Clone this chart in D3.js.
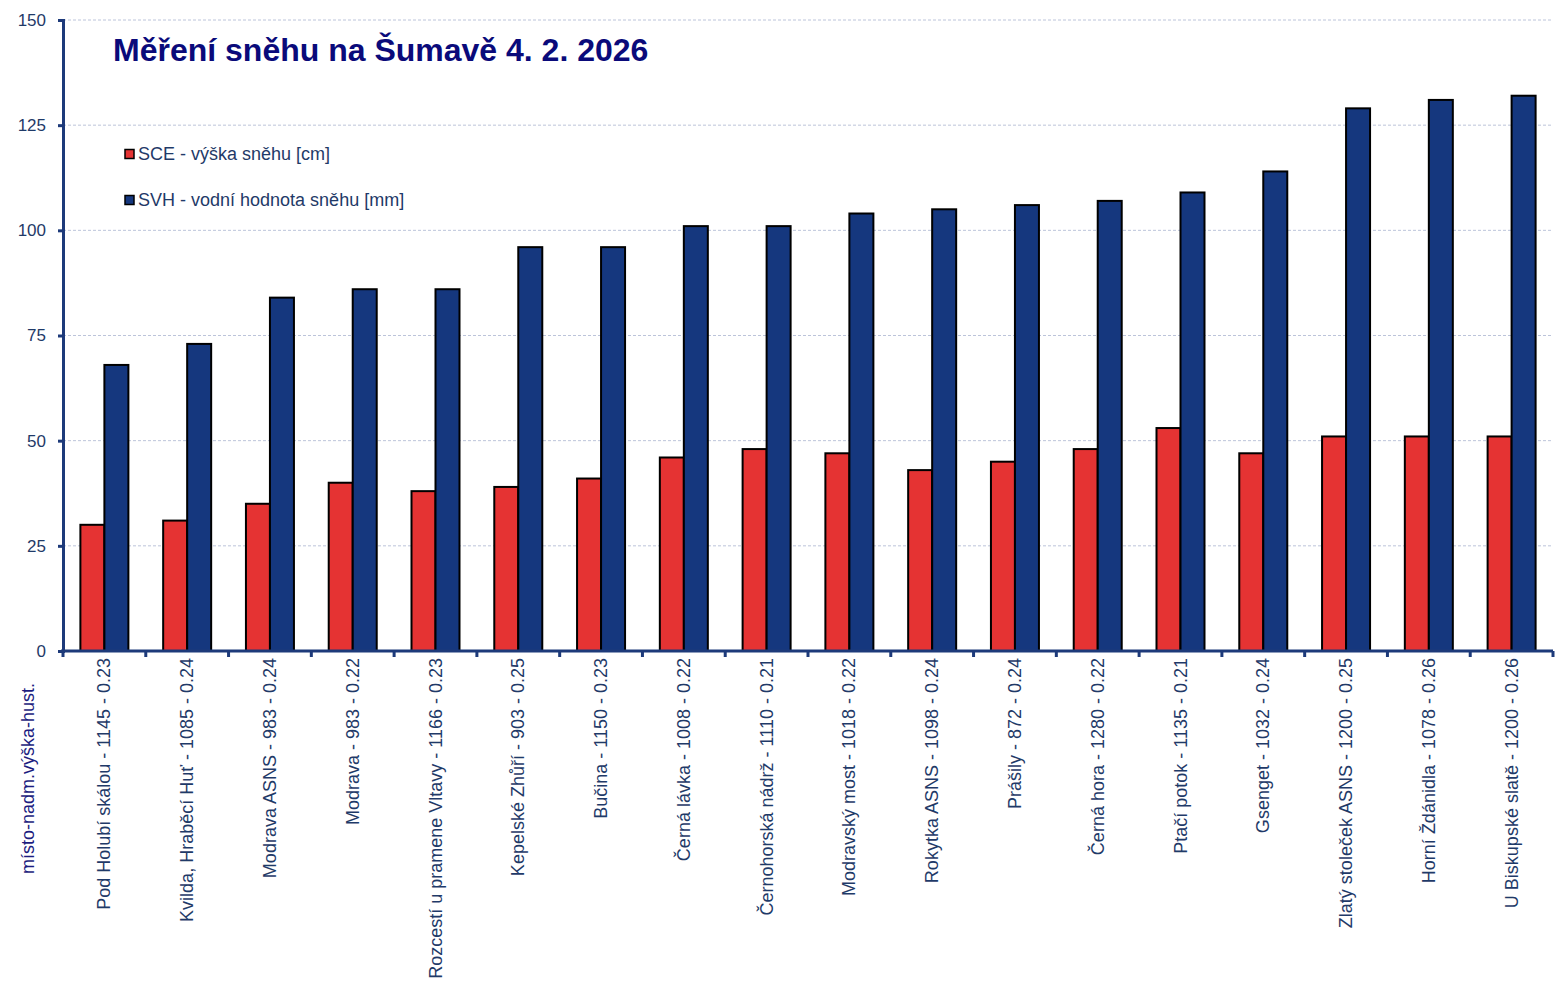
<!DOCTYPE html>
<html><head><meta charset="utf-8">
<script src="https://cdn.jsdelivr.net/npm/d3@7"></script>
<style>body{margin:0;background:#fff}svg{display:block}text{font-family:"Liberation Sans",Arial,sans-serif}</style>
</head><body>
<svg id="c" width="1561" height="990"></svg>
<script>
const categories = ["Pod Holubí skálou - 1145 - 0.23","Kvilda, Hraběcí Huť - 1085 - 0.24","Modrava ASNS - 983 - 0.24","Modrava - 983 - 0.22","Rozcestí u pramene Vltavy - 1166 - 0.23","Kepelské Zhůří - 903 - 0.25","Bučina - 1150 - 0.23","Černá lávka - 1008 - 0.22","Černohorská nádrž - 1110 - 0.21","Modravský most - 1018 - 0.22","Rokytka ASNS - 1098 - 0.24","Prášily - 872 - 0.24","Černá hora - 1280 - 0.22","Ptačí potok - 1135 - 0.21","Gsenget - 1032 - 0.24","Zlatý stoleček ASNS - 1200 - 0.25","Horní Ždánidla - 1078 - 0.26","U Biskupské slatě - 1200 - 0.26"];
const sce = [30,31,35,40,38,39,41,46,48,47,43,45,48,53,47,51,51,51];
const svh = [68,73,84,86,86,96,96,101,101,104,105,106,107,109,114,129,131,132];
const yTicks = [0,25,50,75,100,125,150];
const seriesNames = ["SCE - výška sněhu [cm]","SVH - vodní hodnota sněhu [mm]"];
const seriesColors = ["#e53333","#15377e"];
const title = "Měření sněhu na Šumavě 4. 2. 2026";
const xTitle = "místo-nadm.výška-hust.";

const svg = d3.select("#c");
const L = 63, R = 1553, T = 20, B = 651;
const axisColor = "#1d3a7a", labelColor = "#1f3a68";

const x = d3.scaleBand().domain(categories).range([L, R]).paddingInner(0).paddingOuter(0);
const y = d3.scaleLinear().domain([0,150]).range([B, T]);
const inner = d3.scaleBand().domain([0,1]).range([0, 48]);
const gOff = (x.bandwidth() - 48) / 2;

// gridlines
svg.append("g").selectAll("line").data(yTicks.filter(d => d > 0)).join("line")
  .attr("x1", L).attr("x2", R).attr("y1", d => y(d)).attr("y2", d => y(d))
  .attr("stroke", "#bcc4da").attr("stroke-width", 1).attr("stroke-dasharray", "3,2");

// bars
const groups = svg.append("g").selectAll("g").data(categories).join("g")
  .attr("transform", d => `translate(${x(d) + gOff},0)`);
[sce, svh].forEach((arr, si) => {
  groups.append("rect")
    .attr("x", inner(si)).attr("width", inner.bandwidth())
    .attr("y", (d, i) => y(arr[i])).attr("height", (d, i) => B - y(arr[i]))
    .attr("fill", seriesColors[si]).attr("stroke", "#000").attr("stroke-width", 2);
});

// y axis
const yAxis = svg.append("g").attr("transform", `translate(${L},0)`)
  .call(d3.axisLeft(y).tickValues(yTicks).tickSize(5).tickPadding(12));
yAxis.select(".domain").attr("stroke", axisColor).attr("stroke-width", 3);
yAxis.selectAll(".tick line").attr("stroke", axisColor).attr("stroke-width", 3);
yAxis.selectAll(".tick text").attr("fill", labelColor).attr("font-size", 17);

// x axis
const tickPos = categories.map(c => x(c)).concat([R]);
const xAxis = svg.append("g").attr("transform", `translate(0,${B})`);
xAxis.append("line").attr("x1", L - 2).attr("x2", R).attr("y1", 0).attr("y2", 0)
  .attr("stroke", axisColor).attr("stroke-width", 3);
xAxis.selectAll("line.t").data(tickPos).join("line").attr("class","t")
  .attr("x1", d => d).attr("x2", d => d).attr("y1", 0).attr("y2", 6)
  .attr("stroke", axisColor).attr("stroke-width", 3);
xAxis.selectAll("text").data(categories).join("text")
  .attr("transform", d => `translate(${x(d) + x.bandwidth()/2 + 6},7) rotate(-90)`)
  .attr("text-anchor", "end").attr("fill", labelColor).attr("font-size", 18)
  .text(d => d);

// x title
svg.append("text").attr("transform", "translate(34,683) rotate(-90)")
  .attr("text-anchor", "end").attr("fill", "#1c1c80").attr("font-size", 18).text(xTitle);

// title
svg.append("text").attr("x", 113).attr("y", 61).attr("fill", "#0a0a7a")
  .attr("font-size", 32).attr("font-weight", "bold").text(title);

// legend
const leg = svg.append("g").selectAll("g").data(seriesNames).join("g")
  .attr("transform", (d, i) => `translate(125,${154 + i * 46})`);
leg.append("rect").attr("x", 0).attr("y", -4.5).attr("width", 9).attr("height", 9)
  .attr("fill", (d, i) => seriesColors[i]).attr("stroke", "#000").attr("stroke-width", 1.5);
leg.append("text").attr("x", 13).attr("y", 0).attr("dy", "0.35em")
  .attr("fill", labelColor).attr("font-size", 18).text(d => d);
</script>
</body></html>
